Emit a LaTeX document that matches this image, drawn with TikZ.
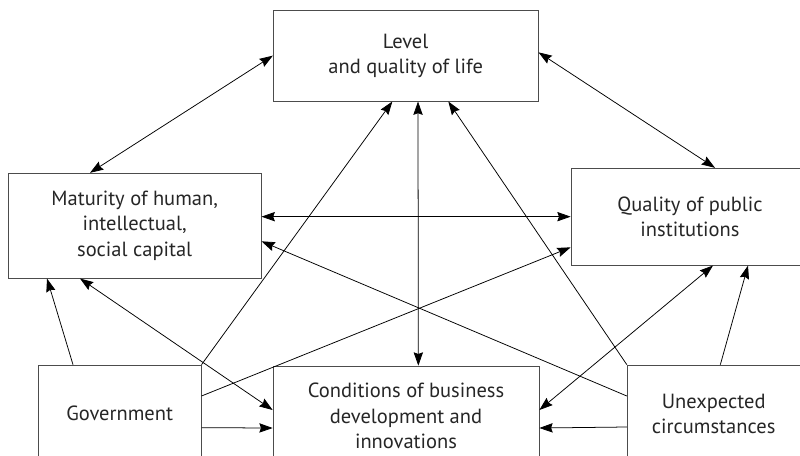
\documentclass[tikz,border=0pt]{standalone}
\usepackage{fontspec}
\setmainfont{PT Sans}
\usetikzlibrary{arrows.meta}

\begin{document}
\begin{tikzpicture}[box/.style={draw=black!70, line width=0.6pt, align=center, inner sep=0pt, font=\fontsize{17.5}{21.5}\selectfont, text=black!85}, link/.style={line width=0.65pt}, >={Stealth[length=4mm, width=2.8mm, inset=0.5mm]}]
\clip (0,0) rectangle (24,-13.65);

\node(life)[box, minimum width=7.95cm, minimum height=2.73cm] at (12.17,-1.67) {Level\\and quality of life};

\node(human)[box, minimum width=7.59cm, minimum height=3.15cm] at (4.04,-6.77) {Maturity of human,\\intellectual,\\social capital};
\node(inst)[box, minimum width=7.14cm, minimum height=2.91cm] at (20.7,-6.5) {Quality of public\\institutions};

\node(gov)[box, minimum width=4.89cm, minimum height=2.88cm] at (3.59,-12.39) {Government};
\node(cond)[box, minimum width=7.98cm, minimum height=3cm] at (12.18,-12.48) {Conditions of business\\development and\\innovations};
\node(unexp)[box, minimum width=5.19cm, minimum height=2.94cm] at (21.41,-12.42) {Unexpected\\circumstances};

\draw[<->, link] (life.west) -- ([xshift=-1.34cm]human.north);
\draw[<->, link] ([yshift=0.1cm]life.east) -- ([xshift=0.75cm]inst.north);
\draw[<->, link] ([xshift=0.37cm]life.south) -- ([xshift=0.37cm]cond.north);
\draw[<->, link] (human.east |- inst.west) -- (inst.west);
\draw[<->, link] ([xshift=-1.64cm]human.south) -- ([yshift=0.18cm]cond.west);
\draw[<->, link] ([xshift=0.69cm]inst.south) -- ([yshift=0.18cm]cond.east);

\draw[->, link] (gov.north east) -- ([xshift=-0.4cm]life.south);
\draw[->, link] (unexp.north west) -- ([xshift=1.28cm]life.south);
\draw[->, link] ([yshift=0.54cm]unexp.west) -- ([yshift=-0.47cm]human.east);
\draw[->, link] ([yshift=0.51cm]gov.east) -- ([yshift=-0.92cm]inst.west);
\draw[->, link] ([xshift=-1.4cm]gov.north) -- ([xshift=-2.63cm]human.south);
\draw[->, link] ([yshift=-0.44cm]gov.east) -- ([yshift=-0.36cm]cond.west);
\draw[->, link] ([xshift=0.2cm]unexp.north) -- ([xshift=1.74cm]inst.south);
\draw[->, link] ([yshift=-0.39cm]unexp.west) -- ([yshift=-0.36cm]cond.east);
\end{tikzpicture}
\end{document}
